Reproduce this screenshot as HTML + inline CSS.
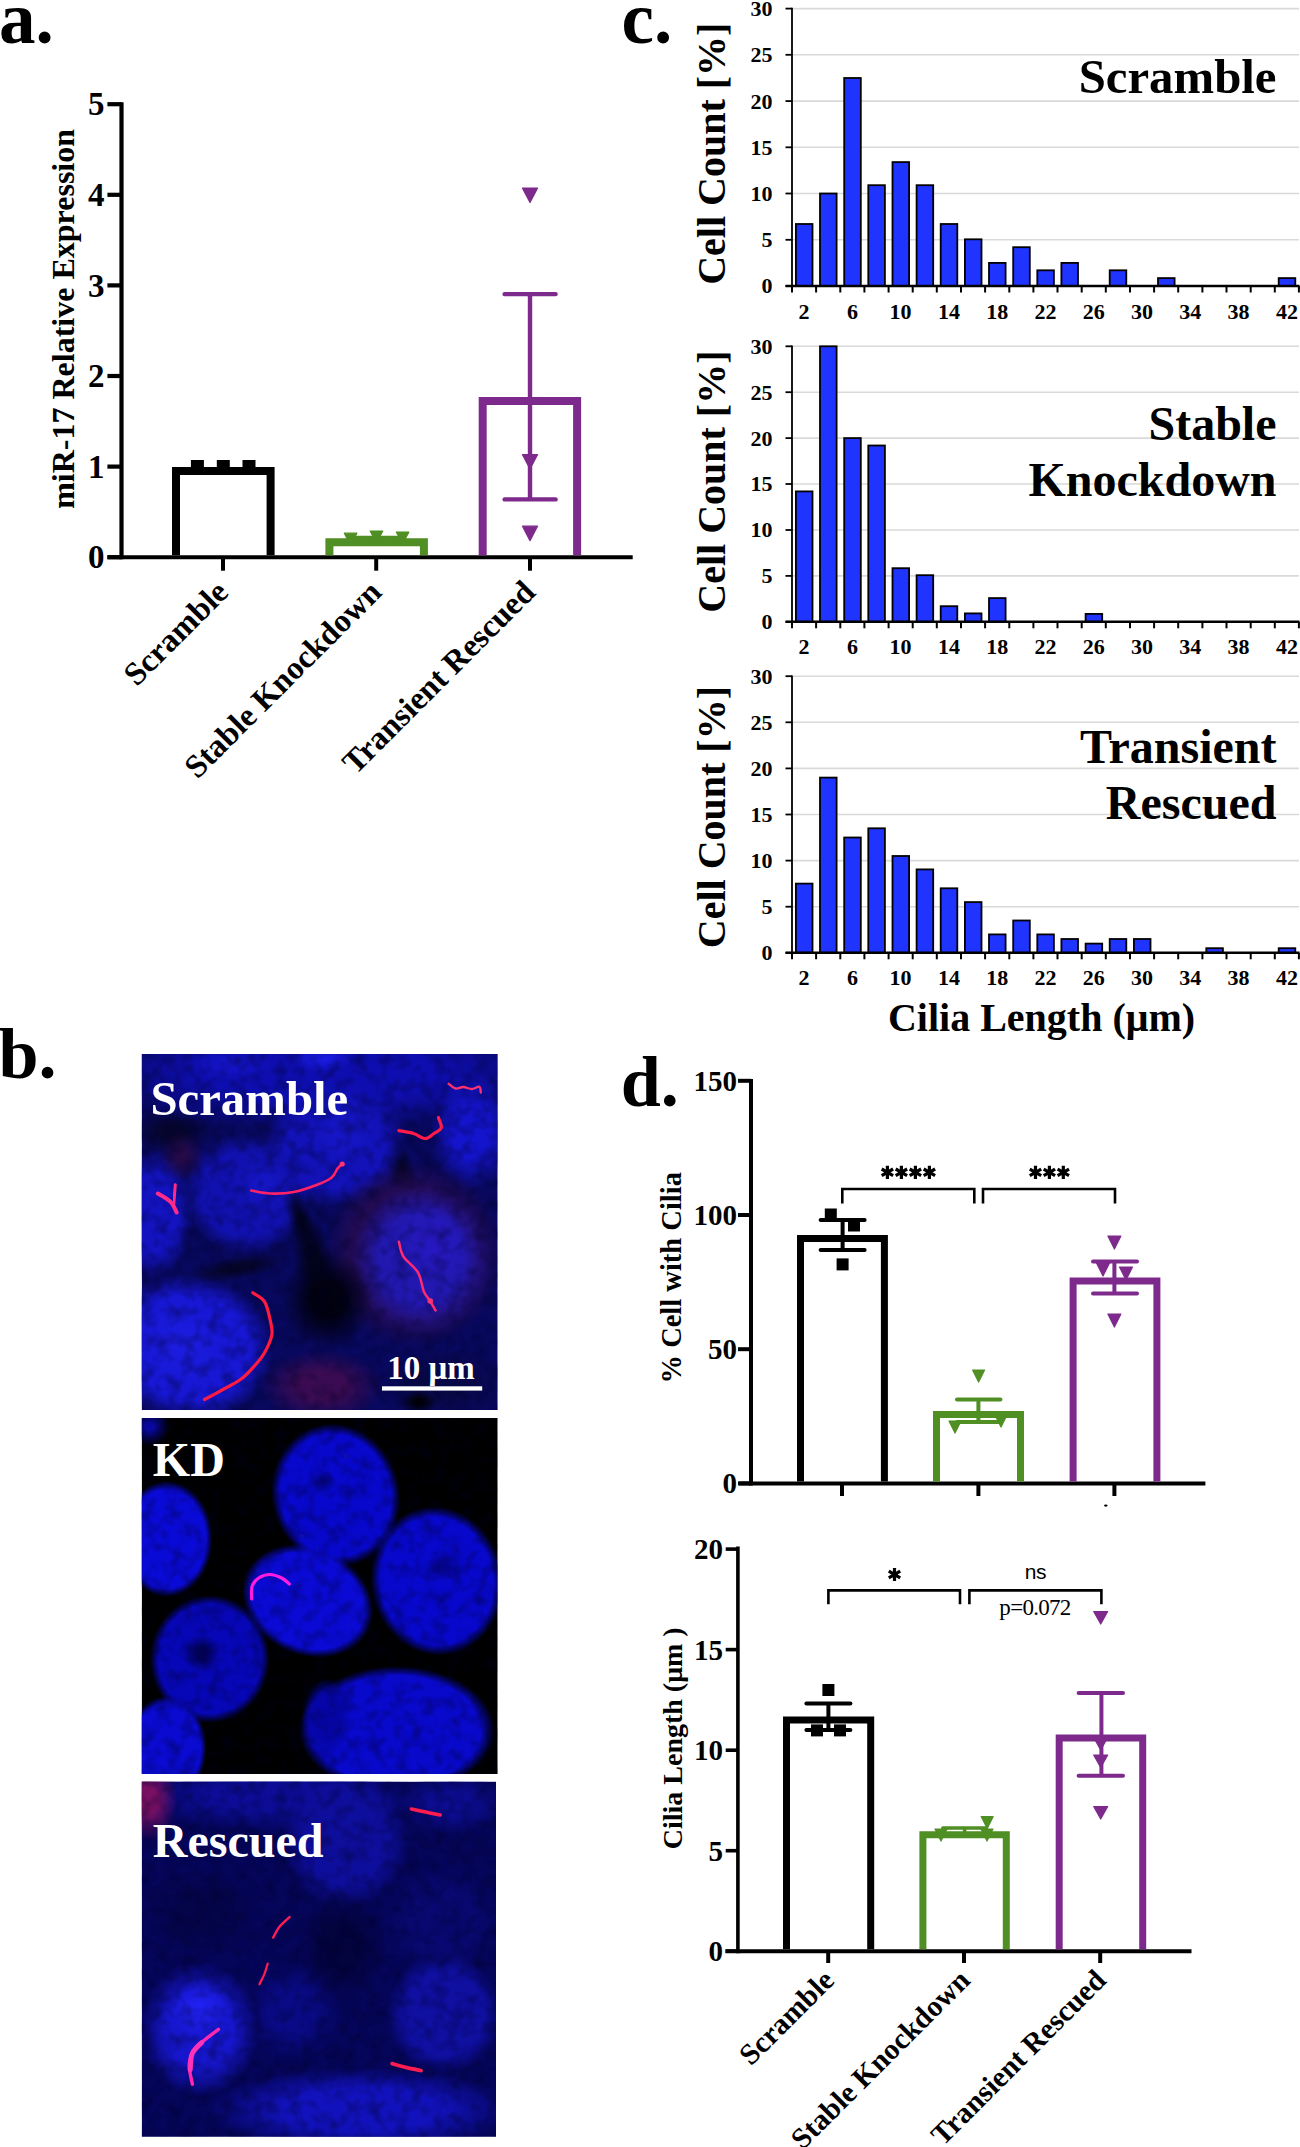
<!DOCTYPE html>
<html><head><meta charset="utf-8"><style>
html,body{margin:0;padding:0;background:#fff;}
svg{display:block;}
</style></head><body>
<svg width="1300" height="2147" viewBox="0 0 1300 2147">
<rect width="1300" height="2147" fill="#fff"/>
<defs>
<filter id="bl1" x="-50%" y="-50%" width="200%" height="200%"><feGaussianBlur stdDeviation="0.6"/></filter>
<filter id="nz" x="0" y="0" width="100%" height="100%"><feTurbulence type="fractalNoise" baseFrequency="0.075" numOctaves="2" seed="7"/><feColorMatrix type="matrix" values="0 0 0 0 0  0 0 0 0 0  0 0 0 0 0.02  1.3 0 0 0 -0.55"/></filter>
<filter id="bl3" x="-50%" y="-50%" width="200%" height="200%"><feGaussianBlur stdDeviation="3"/></filter>
<clipPath id="c1"><rect x="0" y="0" width="356" height="356"/></clipPath>
<clipPath id="c3"><rect x="0" y="0" width="354.3" height="355.2"/></clipPath>
<radialGradient id="g1"><stop offset="0" stop-color="#0e0eb0" stop-opacity="1.0"/><stop offset="0.50" stop-color="#0e0eb0" stop-opacity="1.0"/><stop offset="1" stop-color="#0e0eb0" stop-opacity="0"/></radialGradient>
<radialGradient id="g2"><stop offset="0" stop-color="#1a1ae0" stop-opacity="1.0"/><stop offset="0.20" stop-color="#1a1ae0" stop-opacity="1.0"/><stop offset="1" stop-color="#1a1ae0" stop-opacity="0"/></radialGradient>
<radialGradient id="g3"><stop offset="0" stop-color="#1414c8" stop-opacity="1.0"/><stop offset="0.20" stop-color="#1414c8" stop-opacity="1.0"/><stop offset="1" stop-color="#1414c8" stop-opacity="0"/></radialGradient>
<radialGradient id="g4"><stop offset="0" stop-color="#1414cc" stop-opacity="1.0"/><stop offset="0.45" stop-color="#1414cc" stop-opacity="1.0"/><stop offset="1" stop-color="#1414cc" stop-opacity="0"/></radialGradient>
<radialGradient id="g5"><stop offset="0" stop-color="#05052e" stop-opacity="1.0"/><stop offset="0.30" stop-color="#05052e" stop-opacity="1.0"/><stop offset="1" stop-color="#05052e" stop-opacity="0"/></radialGradient>
<radialGradient id="g6"><stop offset="0" stop-color="#040428" stop-opacity="1.0"/><stop offset="0.20" stop-color="#040428" stop-opacity="1.0"/><stop offset="1" stop-color="#040428" stop-opacity="0"/></radialGradient>
<radialGradient id="g7"><stop offset="0" stop-color="#1212b8" stop-opacity="1.0"/><stop offset="0.70" stop-color="#1212b8" stop-opacity="1.0"/><stop offset="1" stop-color="#1212b8" stop-opacity="0"/></radialGradient>
<radialGradient id="g8"><stop offset="0" stop-color="#1111b0" stop-opacity="1.0"/><stop offset="0.70" stop-color="#1111b0" stop-opacity="1.0"/><stop offset="1" stop-color="#1111b0" stop-opacity="0"/></radialGradient>
<radialGradient id="g9"><stop offset="0" stop-color="#1515c4" stop-opacity="1.0"/><stop offset="0.20" stop-color="#1515c4" stop-opacity="1.0"/><stop offset="1" stop-color="#1515c4" stop-opacity="0"/></radialGradient>
<radialGradient id="g10"><stop offset="0" stop-color="#1616c8" stop-opacity="1.0"/><stop offset="0.20" stop-color="#1616c8" stop-opacity="1.0"/><stop offset="1" stop-color="#1616c8" stop-opacity="0"/></radialGradient>
<radialGradient id="g11"><stop offset="0" stop-color="#03031e" stop-opacity="1.0"/><stop offset="0.20" stop-color="#03031e" stop-opacity="1.0"/><stop offset="1" stop-color="#03031e" stop-opacity="0"/></radialGradient>
<radialGradient id="g12"><stop offset="0" stop-color="#1313c0" stop-opacity="1.0"/><stop offset="0.60" stop-color="#1313c0" stop-opacity="1.0"/><stop offset="1" stop-color="#1313c0" stop-opacity="0"/></radialGradient>
<radialGradient id="g13"><stop offset="0" stop-color="#2e0b44" stop-opacity="0.8"/><stop offset="0.20" stop-color="#2e0b44" stop-opacity="0.8"/><stop offset="1" stop-color="#2e0b44" stop-opacity="0"/></radialGradient>
<radialGradient id="g14"><stop offset="0" stop-color="#380e4a" stop-opacity="0.55"/><stop offset="0.70" stop-color="#380e4a" stop-opacity="0.55"/><stop offset="1" stop-color="#380e4a" stop-opacity="0"/></radialGradient>
<radialGradient id="g15"><stop offset="0" stop-color="#2218b0" stop-opacity="1.0"/><stop offset="0.60" stop-color="#2218b0" stop-opacity="1.0"/><stop offset="1" stop-color="#2218b0" stop-opacity="0"/></radialGradient>
<radialGradient id="g16"><stop offset="0" stop-color="#2618c0" stop-opacity="1.0"/><stop offset="0.20" stop-color="#2618c0" stop-opacity="1.0"/><stop offset="1" stop-color="#2618c0" stop-opacity="0"/></radialGradient>
<radialGradient id="g17"><stop offset="0" stop-color="#1717d4" stop-opacity="1.0"/><stop offset="0.70" stop-color="#1717d4" stop-opacity="1.0"/><stop offset="1" stop-color="#1717d4" stop-opacity="0"/></radialGradient>
<radialGradient id="g18"><stop offset="0" stop-color="#1c1ce0" stop-opacity="1.0"/><stop offset="0.20" stop-color="#1c1ce0" stop-opacity="1.0"/><stop offset="1" stop-color="#1c1ce0" stop-opacity="0"/></radialGradient>
<radialGradient id="g19"><stop offset="0" stop-color="#030320" stop-opacity="1.0"/><stop offset="0.30" stop-color="#030320" stop-opacity="1.0"/><stop offset="1" stop-color="#030320" stop-opacity="0"/></radialGradient>
<radialGradient id="g20"><stop offset="0" stop-color="#05052a" stop-opacity="1.0"/><stop offset="0.30" stop-color="#05052a" stop-opacity="1.0"/><stop offset="1" stop-color="#05052a" stop-opacity="0"/></radialGradient>
<radialGradient id="g21"><stop offset="0" stop-color="#010110" stop-opacity="1.0"/><stop offset="0.35" stop-color="#010110" stop-opacity="1.0"/><stop offset="1" stop-color="#010110" stop-opacity="0"/></radialGradient>
<radialGradient id="g22"><stop offset="0" stop-color="#3a0b52" stop-opacity="1.0"/><stop offset="0.40" stop-color="#3a0b52" stop-opacity="1.0"/><stop offset="1" stop-color="#3a0b52" stop-opacity="0"/></radialGradient>
<radialGradient id="g23"><stop offset="0" stop-color="#080848" stop-opacity="1.0"/><stop offset="0.40" stop-color="#080848" stop-opacity="1.0"/><stop offset="1" stop-color="#080848" stop-opacity="0"/></radialGradient>
<radialGradient id="g24"><stop offset="0" stop-color="#000006" stop-opacity="1.0"/><stop offset="0.20" stop-color="#000006" stop-opacity="1.0"/><stop offset="1" stop-color="#000006" stop-opacity="0"/></radialGradient>
<radialGradient id="g25"><stop offset="0" stop-color="#0808a0" stop-opacity="1.0"/><stop offset="0.20" stop-color="#0808a0" stop-opacity="1.0"/><stop offset="1" stop-color="#0808a0" stop-opacity="0"/></radialGradient>
<radialGradient id="g26"><stop offset="0" stop-color="#0a0ad6" stop-opacity="1.0"/><stop offset="0.85" stop-color="#0a0ad6" stop-opacity="1.0"/><stop offset="1" stop-color="#0a0ad6" stop-opacity="0"/></radialGradient>
<radialGradient id="g27"><stop offset="0" stop-color="#0808cc" stop-opacity="1.0"/><stop offset="0.85" stop-color="#0808cc" stop-opacity="1.0"/><stop offset="1" stop-color="#0808cc" stop-opacity="0"/></radialGradient>
<radialGradient id="g28"><stop offset="0" stop-color="#0a0ad4" stop-opacity="1.0"/><stop offset="0.85" stop-color="#0a0ad4" stop-opacity="1.0"/><stop offset="1" stop-color="#0a0ad4" stop-opacity="0"/></radialGradient>
<radialGradient id="g29"><stop offset="0" stop-color="#0808cc" stop-opacity="1.0"/><stop offset="0.85" stop-color="#0808cc" stop-opacity="1.0"/><stop offset="1" stop-color="#0808cc" stop-opacity="0"/></radialGradient>
<radialGradient id="g30"><stop offset="0" stop-color="#0707b8" stop-opacity="1.0"/><stop offset="0.85" stop-color="#0707b8" stop-opacity="1.0"/><stop offset="1" stop-color="#0707b8" stop-opacity="0"/></radialGradient>
<radialGradient id="g31"><stop offset="0" stop-color="#02025a" stop-opacity="1.0"/><stop offset="0.30" stop-color="#02025a" stop-opacity="1.0"/><stop offset="1" stop-color="#02025a" stop-opacity="0"/></radialGradient>
<radialGradient id="g32"><stop offset="0" stop-color="#0a0ad0" stop-opacity="1.0"/><stop offset="0.85" stop-color="#0a0ad0" stop-opacity="1.0"/><stop offset="1" stop-color="#0a0ad0" stop-opacity="0"/></radialGradient>
<radialGradient id="g33"><stop offset="0" stop-color="#0909cc" stop-opacity="1.0"/><stop offset="0.85" stop-color="#0909cc" stop-opacity="1.0"/><stop offset="1" stop-color="#0909cc" stop-opacity="0"/></radialGradient>
<radialGradient id="g34"><stop offset="0" stop-color="#0606a8" stop-opacity="1.0"/><stop offset="0.60" stop-color="#0606a8" stop-opacity="1.0"/><stop offset="1" stop-color="#0606a8" stop-opacity="0"/></radialGradient>
<radialGradient id="g35"><stop offset="0" stop-color="#050590" stop-opacity="1.0"/><stop offset="0.30" stop-color="#050590" stop-opacity="1.0"/><stop offset="1" stop-color="#050590" stop-opacity="0"/></radialGradient>
<radialGradient id="g36"><stop offset="0" stop-color="#050590" stop-opacity="1.0"/><stop offset="0.30" stop-color="#050590" stop-opacity="1.0"/><stop offset="1" stop-color="#050590" stop-opacity="0"/></radialGradient>
<radialGradient id="g37"><stop offset="0" stop-color="#0c0c96" stop-opacity="1.0"/><stop offset="0.40" stop-color="#0c0c96" stop-opacity="1.0"/><stop offset="1" stop-color="#0c0c96" stop-opacity="0"/></radialGradient>
<radialGradient id="g38"><stop offset="0" stop-color="#0e0e9c" stop-opacity="1.0"/><stop offset="0.65" stop-color="#0e0e9c" stop-opacity="1.0"/><stop offset="1" stop-color="#0e0e9c" stop-opacity="0"/></radialGradient>
<radialGradient id="g39"><stop offset="0" stop-color="#0c0c90" stop-opacity="1.0"/><stop offset="0.40" stop-color="#0c0c90" stop-opacity="1.0"/><stop offset="1" stop-color="#0c0c90" stop-opacity="0"/></radialGradient>
<radialGradient id="g40"><stop offset="0" stop-color="#080870" stop-opacity="1.0"/><stop offset="0.50" stop-color="#080870" stop-opacity="1.0"/><stop offset="1" stop-color="#080870" stop-opacity="0"/></radialGradient>
<radialGradient id="g41"><stop offset="0" stop-color="#1616cc" stop-opacity="1.0"/><stop offset="0.55" stop-color="#1616cc" stop-opacity="1.0"/><stop offset="1" stop-color="#1616cc" stop-opacity="0"/></radialGradient>
<radialGradient id="g42"><stop offset="0" stop-color="#2020f0" stop-opacity="1.0"/><stop offset="0.20" stop-color="#2020f0" stop-opacity="1.0"/><stop offset="1" stop-color="#2020f0" stop-opacity="0"/></radialGradient>
<radialGradient id="g43"><stop offset="0" stop-color="#0f0fa0" stop-opacity="1.0"/><stop offset="0.70" stop-color="#0f0fa0" stop-opacity="1.0"/><stop offset="1" stop-color="#0f0fa0" stop-opacity="0"/></radialGradient>
<radialGradient id="g44"><stop offset="0" stop-color="#1212bc" stop-opacity="1.0"/><stop offset="0.50" stop-color="#1212bc" stop-opacity="1.0"/><stop offset="1" stop-color="#1212bc" stop-opacity="0"/></radialGradient>
<radialGradient id="g45"><stop offset="0" stop-color="#0a0a86" stop-opacity="1.0"/><stop offset="0.40" stop-color="#0a0a86" stop-opacity="1.0"/><stop offset="1" stop-color="#0a0a86" stop-opacity="0"/></radialGradient>
<radialGradient id="g46"><stop offset="0" stop-color="#7a1064" stop-opacity="1.0"/><stop offset="0.30" stop-color="#7a1064" stop-opacity="1.0"/><stop offset="1" stop-color="#7a1064" stop-opacity="0"/></radialGradient>
<radialGradient id="g47"><stop offset="0" stop-color="#03033e" stop-opacity="1.0"/><stop offset="0.40" stop-color="#03033e" stop-opacity="1.0"/><stop offset="1" stop-color="#03033e" stop-opacity="0"/></radialGradient>
<radialGradient id="g48"><stop offset="0" stop-color="#04044a" stop-opacity="1.0"/><stop offset="0.40" stop-color="#04044a" stop-opacity="1.0"/><stop offset="1" stop-color="#04044a" stop-opacity="0"/></radialGradient>
</defs>
<g transform="translate(141.7,1054)" clip-path="url(#c1)">
<rect width="356" height="356" fill="#08085e"/>
<ellipse cx="178" cy="18" rx="240" ry="58" fill="url(#g1)" transform="rotate(0 178 18)"/>
<ellipse cx="180" cy="4" rx="30" ry="14" fill="url(#g2)" transform="rotate(0 180 4)"/>
<ellipse cx="90" cy="10" rx="40" ry="16" fill="url(#g3)" transform="rotate(0 90 10)"/>
<ellipse cx="330" cy="78" rx="42" ry="58" fill="url(#g4)" transform="rotate(0 330 78)"/>
<ellipse cx="30" cy="78" rx="42" ry="22" fill="url(#g5)" transform="rotate(0 30 78)"/>
<ellipse cx="258" cy="112" rx="14" ry="32" fill="url(#g6)" transform="rotate(-20 258 112)"/>
<ellipse cx="193" cy="92" rx="72" ry="60" fill="url(#g7)" transform="rotate(-12 193 92)"/>
<ellipse cx="104" cy="140" rx="63" ry="60" fill="url(#g8)" transform="rotate(20 104 140)"/>
<ellipse cx="120" cy="130" rx="30" ry="30" fill="url(#g9)" transform="rotate(0 120 130)"/>
<ellipse cx="200" cy="80" rx="35" ry="30" fill="url(#g10)" transform="rotate(0 200 80)"/>
<ellipse cx="160" cy="168" rx="12" ry="40" fill="url(#g11)" transform="rotate(-20 160 168)"/>
<ellipse cx="12" cy="160" rx="40" ry="64" fill="url(#g12)" transform="rotate(0 12 160)"/>
<ellipse cx="40" cy="102" rx="22" ry="25" fill="url(#g13)" transform="rotate(0 40 102)"/>
<ellipse cx="272" cy="200" rx="90" ry="94" fill="url(#g14)" transform="rotate(0 272 200)"/>
<ellipse cx="280" cy="205" rx="70" ry="74" fill="url(#g15)" transform="rotate(0 280 205)"/>
<ellipse cx="292" cy="190" rx="35" ry="40" fill="url(#g16)" transform="rotate(0 292 190)"/>
<ellipse cx="48" cy="294" rx="84" ry="74" fill="url(#g17)" transform="rotate(8 48 294)"/>
<ellipse cx="40" cy="290" rx="40" ry="40" fill="url(#g18)" transform="rotate(0 40 290)"/>
<ellipse cx="172" cy="205" rx="20" ry="48" fill="url(#g19)" transform="rotate(-15 172 205)"/>
<ellipse cx="95" cy="214" rx="52" ry="12" fill="url(#g20)" transform="rotate(-10 95 214)"/>
<ellipse cx="186" cy="246" rx="46" ry="50" fill="url(#g21)" transform="rotate(0 186 246)"/>
<ellipse cx="180" cy="332" rx="62" ry="36" fill="url(#g22)" transform="rotate(0 180 332)"/>
<ellipse cx="300" cy="330" rx="64" ry="36" fill="url(#g23)" transform="rotate(0 300 330)"/>
<ellipse cx="277" cy="348" rx="18" ry="12" fill="url(#g24)" transform="rotate(0 277 348)"/>
<rect width="356" height="356" filter="url(#nz)" opacity="0.65"/>
<path d="M109.6,136.5 C112.8,137.0 121.5,139.2 128.6,139.5 C135.7,139.8 144.2,139.5 152.0,138.0 C159.8,136.5 169.1,133.1 175.4,130.7 C181.7,128.3 186.6,126.1 190.0,123.4 C193.4,120.7 194.1,116.8 195.8,114.6 C197.5,112.4 199.5,110.9 200.2,110.2" fill="none" stroke="#ff2266" stroke-width="2.6" stroke-linecap="round" stroke-linejoin="round" filter="url(#bl1)"/>
<circle cx="200.5" cy="110" r="2.6" fill="#ff3377" opacity="1" filter="url(#bl1)"/>
<path d="M257.2,76.6 C259.6,77.1 267.4,78.2 271.8,79.5 C276.2,80.8 280.1,84.5 283.5,84.5 C286.9,84.5 289.6,81.3 292.3,79.5 C295.0,77.7 298.9,76.4 299.6,73.7 C300.3,71.0 297.2,65.2 296.7,63.5" fill="none" stroke="#ff1a4a" stroke-width="3.2" stroke-linecap="round" stroke-linejoin="round" filter="url(#bl1)"/>
<path d="M306.9,29.8 C308.1,30.6 311.6,34.0 314.0,34.5 C316.4,35.0 318.8,32.9 321.5,33.0 C324.2,33.1 327.3,35.0 330.0,35.0 C332.7,35.0 336.1,32.2 337.6,32.8 C339.1,33.4 338.9,37.6 339.1,38.6" fill="none" stroke="#ff3070" stroke-width="2.3" stroke-linecap="round" stroke-linejoin="round" filter="url(#bl1)"/>
<path d="M16.1,139.5 C18.3,140.9 26.1,145.0 29.2,148.2 C32.4,151.4 34.0,156.8 35.0,158.5" fill="none" stroke="#ff2a8a" stroke-width="4" stroke-linecap="round" stroke-linejoin="round" filter="url(#bl1)"/>
<path d="M33.6,130.7 L32.1,149.7" fill="none" stroke="#ff2a8a" stroke-width="3" stroke-linecap="round" stroke-linejoin="round" filter="url(#bl1)"/>
<path d="M257.2,187.7 C257.9,190.1 258.4,197.2 261.6,202.3 C264.8,207.4 272.8,212.6 276.2,218.4 C279.6,224.2 280.2,232.8 282.1,237.4 C284.1,242.0 285.9,243.0 287.9,246.2 C289.8,249.4 292.8,254.7 293.8,256.4" fill="none" stroke="#ff2a70" stroke-width="2.5" stroke-linecap="round" stroke-linejoin="round" filter="url(#bl1)"/>
<circle cx="288.5" cy="247" r="2.8" fill="#ff3377" opacity="1" filter="url(#bl1)"/>
<path d="M111.1,238.8 C113.0,240.3 119.9,243.0 122.8,247.6 C125.7,252.2 127.4,261.0 128.6,266.6 C129.8,272.2 131.1,275.8 130.1,281.2 C129.1,286.6 125.5,293.9 122.8,298.8 C120.1,303.7 117.9,306.1 114.0,310.5 C110.1,314.9 105.2,320.7 99.4,325.1 C93.6,329.5 85.0,333.4 78.9,336.8 C72.8,340.2 65.5,344.1 62.8,345.5" fill="none" stroke="#ff1a40" stroke-width="3.2" stroke-linecap="round" stroke-linejoin="round" filter="url(#bl1)"/>
<text x="8.7" y="60.5" font-size="48.8" font-weight="bold" font-family='"Liberation Serif", serif' fill="#fff">Scramble</text>
<text x="245.6" y="325" font-size="33" font-weight="bold" font-family='"Liberation Serif", serif' fill="#fff">10 μm</text>
<rect x="240.3" y="332.3" width="100.2" height="4.3" fill="#fff"/>
</g>
<g transform="translate(141.7,1418)" clip-path="url(#c1)">
<rect width="356" height="356" fill="#000"/>
<ellipse cx="8" cy="8" rx="20" ry="20" fill="url(#g25)" transform="rotate(0 8 8)"/>
<ellipse cx="25" cy="121" rx="46" ry="58" fill="url(#g26)" transform="rotate(0 25 121)"/>
<ellipse cx="194" cy="77" rx="64" ry="72" fill="url(#g27)" transform="rotate(-15 194 77)"/>
<ellipse cx="166" cy="183" rx="68" ry="54" fill="url(#g28)" transform="rotate(25 166 183)"/>
<ellipse cx="295" cy="163" rx="66" ry="75" fill="url(#g29)" transform="rotate(-10 295 163)"/>
<ellipse cx="68" cy="241" rx="60" ry="64" fill="url(#g30)" transform="rotate(0 68 241)"/>
<ellipse cx="60" cy="235" rx="18" ry="20" fill="url(#g31)" transform="rotate(0 60 235)"/>
<ellipse cx="25" cy="330" rx="40" ry="52" fill="url(#g32)" transform="rotate(0 25 330)"/>
<ellipse cx="255" cy="312" rx="98" ry="64" fill="url(#g33)" transform="rotate(0 255 312)"/>
<ellipse cx="185" cy="300" rx="25" ry="40" fill="url(#g34)" transform="rotate(0 185 300)"/>
<ellipse cx="180" cy="65" rx="16" ry="10" fill="url(#g35)" transform="rotate(0 180 65)"/>
<ellipse cx="300" cy="150" rx="20" ry="14" fill="url(#g36)" transform="rotate(0 300 150)"/>
<rect width="356" height="356" filter="url(#nz)" opacity="0.65"/>
<circle cx="205" cy="38" r="3" fill="#0a0ab0" opacity="1" filter="url(#bl1)"/>
<circle cx="160" cy="118" r="2.5" fill="#0a0ab0" opacity="1" filter="url(#bl1)"/>
<circle cx="175" cy="130" r="2" fill="#0a0ab0" opacity="1" filter="url(#bl1)"/>
<path d="M110.0,181.0 C110.1,178.8 109.3,171.5 110.5,168.0 C111.7,164.5 114.1,161.9 117.0,160.0 C119.9,158.1 124.2,156.5 128.0,156.5 C131.8,156.5 136.7,158.4 140.0,160.0 C143.3,161.6 146.3,165.0 147.6,166.0" fill="none" stroke="#ff1ee0" stroke-width="3.2" stroke-linecap="round" stroke-linejoin="round" filter="url(#bl1)"/>
<text x="11.1" y="58" font-size="48" font-weight="bold" font-family='"Liberation Serif", serif' fill="#fff">KD</text>
</g>
<g transform="translate(141.7,1781.6)" clip-path="url(#c3)">
<rect width="356" height="356" fill="#05055a"/>
<ellipse cx="130" cy="15" rx="150" ry="35" fill="url(#g37)" transform="rotate(0 130 15)"/>
<ellipse cx="204" cy="58" rx="64" ry="68" fill="url(#g38)" transform="rotate(0 204 58)"/>
<ellipse cx="310" cy="22" rx="55" ry="30" fill="url(#g39)" transform="rotate(0 310 22)"/>
<ellipse cx="300" cy="140" rx="60" ry="60" fill="url(#g40)" transform="rotate(0 300 140)"/>
<ellipse cx="58" cy="248" rx="60" ry="68" fill="url(#g41)" transform="rotate(0 58 248)"/>
<ellipse cx="58" cy="228" rx="30" ry="30" fill="url(#g42)" transform="rotate(0 58 228)"/>
<ellipse cx="302" cy="232" rx="58" ry="60" fill="url(#g43)" transform="rotate(0 302 232)"/>
<ellipse cx="220" cy="328" rx="155" ry="42" fill="url(#g44)" transform="rotate(0 220 328)"/>
<ellipse cx="150" cy="230" rx="50" ry="50" fill="url(#g45)" transform="rotate(0 150 230)"/>
<ellipse cx="6" cy="18" rx="30" ry="42" fill="url(#g46)" transform="rotate(0 6 18)"/>
<ellipse cx="200" cy="165" rx="45" ry="55" fill="url(#g47)" transform="rotate(0 200 165)"/>
<ellipse cx="60" cy="130" rx="60" ry="45" fill="url(#g48)" transform="rotate(0 60 130)"/>
<rect width="356" height="356" filter="url(#nz)" opacity="0.65"/>
<path d="M269.7,27.4 C272.1,27.9 279.2,29.5 284.0,30.5 C288.8,31.5 296.1,32.9 298.5,33.4" fill="none" stroke="#ff1e50" stroke-width="3.6" stroke-linecap="round" stroke-linejoin="round" filter="url(#bl1)"/>
<path d="M131.4,156.0 C132.5,154.2 135.2,148.4 138.0,145.0 C140.8,141.6 146.2,137.1 147.9,135.5" fill="none" stroke="#ff1e50" stroke-width="2.4" stroke-linecap="round" stroke-linejoin="round" filter="url(#bl1)"/>
<path d="M117.7,202.6 C118.5,201.0 121.1,196.4 122.5,193.0 C123.9,189.6 125.4,183.8 126.0,182.0" fill="none" stroke="#ff1e50" stroke-width="2.2" stroke-linecap="round" stroke-linejoin="round" filter="url(#bl1)"/>
<path d="M50.7,302.6 C50.2,299.2 46.9,288.2 47.6,282.0 C48.3,275.8 49.9,271.3 54.8,265.6 C59.6,259.9 73.0,250.8 76.7,247.8" fill="none" stroke="#ff28b0" stroke-width="3.4" stroke-linecap="round" stroke-linejoin="round" filter="url(#bl1)"/>
<path d="M48.5,288.0 C48.8,285.3 48.6,276.5 50.5,272.0 C52.4,267.5 58.4,262.8 60.0,261.0" fill="none" stroke="#ff30b8" stroke-width="5" stroke-linecap="round" stroke-linejoin="round" filter="url(#bl1)"/>
<path d="M250.5,282.0 C252.9,282.7 260.2,284.9 265.0,286.0 C269.8,287.1 276.9,288.4 279.3,288.9" fill="none" stroke="#ff1e50" stroke-width="3.8" stroke-linecap="round" stroke-linejoin="round" filter="url(#bl1)"/>
<text x="11.1" y="75.4" font-size="48" font-weight="bold" font-family='"Liberation Serif", serif' fill="#fff">Rescued</text>
</g>
<text x="-1.0" y="42.5" font-size="73" text-anchor="start" font-weight="bold" font-family='"Liberation Serif", serif' fill="#000" >a.</text>
<text x="621.5" y="42.5" font-size="73" text-anchor="start" font-weight="bold" font-family='"Liberation Serif", serif' fill="#000" >c.</text>
<text x="-1.5" y="1077.5" font-size="72" text-anchor="start" font-weight="bold" font-family='"Liberation Serif", serif' fill="#000" >b.</text>
<text x="620.8" y="1106.0" font-size="72" text-anchor="start" font-weight="bold" font-family='"Liberation Serif", serif' fill="#000" >d.</text>
<line x1="121.5" y1="102.2" x2="121.5" y2="559.2" stroke="#000" stroke-width="4.2" stroke-linecap="butt"/>
<line x1="107.4" y1="557.2" x2="121.5" y2="557.2" stroke="#000" stroke-width="4.2" stroke-linecap="butt"/>
<text x="104.5" y="568.4" font-size="33" text-anchor="end" font-weight="bold" font-family='"Liberation Serif", serif' fill="#000" >0</text>
<line x1="107.4" y1="466.6" x2="121.5" y2="466.6" stroke="#000" stroke-width="4.2" stroke-linecap="butt"/>
<text x="104.5" y="477.8" font-size="33" text-anchor="end" font-weight="bold" font-family='"Liberation Serif", serif' fill="#000" >1</text>
<line x1="107.4" y1="376.0" x2="121.5" y2="376.0" stroke="#000" stroke-width="4.2" stroke-linecap="butt"/>
<text x="104.5" y="387.2" font-size="33" text-anchor="end" font-weight="bold" font-family='"Liberation Serif", serif' fill="#000" >2</text>
<line x1="107.4" y1="285.4" x2="121.5" y2="285.4" stroke="#000" stroke-width="4.2" stroke-linecap="butt"/>
<text x="104.5" y="296.6" font-size="33" text-anchor="end" font-weight="bold" font-family='"Liberation Serif", serif' fill="#000" >3</text>
<line x1="107.4" y1="194.8" x2="121.5" y2="194.8" stroke="#000" stroke-width="4.2" stroke-linecap="butt"/>
<text x="104.5" y="206.0" font-size="33" text-anchor="end" font-weight="bold" font-family='"Liberation Serif", serif' fill="#000" >4</text>
<line x1="107.4" y1="104.2" x2="121.5" y2="104.2" stroke="#000" stroke-width="4.2" stroke-linecap="butt"/>
<text x="104.5" y="115.4" font-size="33" text-anchor="end" font-weight="bold" font-family='"Liberation Serif", serif' fill="#000" >5</text>
<line x1="107.4" y1="557.2" x2="632.7" y2="557.2" stroke="#000" stroke-width="4" stroke-linecap="butt"/>
<line x1="223.0" y1="557.2" x2="223.0" y2="570.7" stroke="#000" stroke-width="4" stroke-linecap="butt"/>
<line x1="376.2" y1="557.2" x2="376.2" y2="570.7" stroke="#000" stroke-width="4" stroke-linecap="butt"/>
<line x1="530.0" y1="557.2" x2="530.0" y2="570.7" stroke="#000" stroke-width="4" stroke-linecap="butt"/>
<text x="0.0" y="0.0" font-size="32" text-anchor="middle" font-weight="bold" font-family='"Liberation Serif", serif' fill="#000" transform="translate(74,318.9) rotate(-90)">miR-17 Relative Expression</text>
<rect x="190.9" y="460.0" width="13" height="13" fill="#000"/>
<rect x="216.8" y="460.0" width="13" height="13" fill="#000"/>
<rect x="242.5" y="460.0" width="13" height="13" fill="#000"/>
<path d="M176.0,555.2 V471.0 H270.6 V555.2" fill="none" stroke="#000" stroke-width="8" stroke-linejoin="miter"/>
<line x1="351.0" y1="537.8" x2="402.0" y2="537.8" stroke="#4f8f23" stroke-width="4.2" stroke-linecap="round"/>
<path d="M344.3,533.2 L356.9,533.2 L350.6,545.2 Z" fill="#4f8f23" stroke="#4f8f23" stroke-width="1.2" stroke-linejoin="round"/>
<path d="M370.2,531.0 L382.8,531.0 L376.5,543.0 Z" fill="#4f8f23" stroke="#4f8f23" stroke-width="1.2" stroke-linejoin="round"/>
<path d="M396.3,532.0 L408.9,532.0 L402.6,544.0 Z" fill="#4f8f23" stroke="#4f8f23" stroke-width="1.2" stroke-linejoin="round"/>
<path d="M329.4,555.2 V542.3 H423.9 V555.2" fill="none" stroke="#4f8f23" stroke-width="8" stroke-linejoin="miter"/>
<path d="M482.7,555.2 V400.9 H577.1 V555.2" fill="none" stroke="#7e2a8c" stroke-width="8" stroke-linejoin="miter"/>
<line x1="530.0" y1="294.1" x2="530.0" y2="499.4" stroke="#7e2a8c" stroke-width="4.4" stroke-linecap="butt"/>
<line x1="504.6" y1="294.1" x2="555.6" y2="294.1" stroke="#7e2a8c" stroke-width="4.4" stroke-linecap="round"/>
<line x1="504.6" y1="499.4" x2="555.6" y2="499.4" stroke="#7e2a8c" stroke-width="4.4" stroke-linecap="round"/>
<path d="M522.5,188.1 L537.5,188.1 L530.0,202.5 Z" fill="#7e2a8c" stroke="#7e2a8c" stroke-width="1.2" stroke-linejoin="round"/>
<path d="M522.5,454.6 L537.5,454.6 L530.0,469.0 Z" fill="#7e2a8c" stroke="#7e2a8c" stroke-width="1.2" stroke-linejoin="round"/>
<path d="M522.5,526.2 L537.5,526.2 L530.0,540.6 Z" fill="#7e2a8c" stroke="#7e2a8c" stroke-width="1.2" stroke-linejoin="round"/>
<text x="0.0" y="0.0" font-size="32.5" text-anchor="end" font-weight="bold" font-family='"Liberation Serif", serif' fill="#000" transform="translate(230.0,594) rotate(-45)">Scramble</text>
<text x="0.0" y="0.0" font-size="32.5" text-anchor="end" font-weight="bold" font-family='"Liberation Serif", serif' fill="#000" transform="translate(383.2,594) rotate(-45)">Stable Knockdown</text>
<text x="0.0" y="0.0" font-size="32.5" text-anchor="end" font-weight="bold" font-family='"Liberation Serif", serif' fill="#000" transform="translate(537.0,594) rotate(-45)">Transient Rescued</text>
<line x1="792.0" y1="239.8" x2="1299.0" y2="239.8" stroke="#d9d9d9" stroke-width="1.6" stroke-linecap="butt"/>
<line x1="792.0" y1="193.5" x2="1299.0" y2="193.5" stroke="#d9d9d9" stroke-width="1.6" stroke-linecap="butt"/>
<line x1="792.0" y1="147.3" x2="1299.0" y2="147.3" stroke="#d9d9d9" stroke-width="1.6" stroke-linecap="butt"/>
<line x1="792.0" y1="101.1" x2="1299.0" y2="101.1" stroke="#d9d9d9" stroke-width="1.6" stroke-linecap="butt"/>
<line x1="792.0" y1="54.8" x2="1299.0" y2="54.8" stroke="#d9d9d9" stroke-width="1.6" stroke-linecap="butt"/>
<line x1="792.0" y1="8.6" x2="1299.0" y2="8.6" stroke="#d9d9d9" stroke-width="1.6" stroke-linecap="butt"/>
<text x="1276.5" y="92.6" font-size="48.8" text-anchor="end" font-weight="bold" font-family='"Liberation Serif", serif' fill="#000" >Scramble</text>
<rect x="795.9" y="224.0" width="16.6" height="62.0" fill="#2034ff" stroke="#000" stroke-width="1.8"/>
<rect x="820.0" y="193.5" width="16.6" height="92.5" fill="#2034ff" stroke="#000" stroke-width="1.8"/>
<rect x="844.2" y="78.0" width="16.6" height="208.0" fill="#2034ff" stroke="#000" stroke-width="1.8"/>
<rect x="868.3" y="185.2" width="16.6" height="100.8" fill="#2034ff" stroke="#000" stroke-width="1.8"/>
<rect x="892.5" y="162.1" width="16.6" height="123.9" fill="#2034ff" stroke="#000" stroke-width="1.8"/>
<rect x="916.6" y="185.2" width="16.6" height="100.8" fill="#2034ff" stroke="#000" stroke-width="1.8"/>
<rect x="940.7" y="224.0" width="16.6" height="62.0" fill="#2034ff" stroke="#000" stroke-width="1.8"/>
<rect x="964.9" y="239.3" width="16.6" height="46.7" fill="#2034ff" stroke="#000" stroke-width="1.8"/>
<rect x="989.0" y="262.9" width="16.6" height="23.1" fill="#2034ff" stroke="#000" stroke-width="1.8"/>
<rect x="1013.2" y="247.2" width="16.6" height="38.8" fill="#2034ff" stroke="#000" stroke-width="1.8"/>
<rect x="1037.3" y="270.3" width="16.6" height="15.7" fill="#2034ff" stroke="#000" stroke-width="1.8"/>
<rect x="1061.4" y="262.9" width="16.6" height="23.1" fill="#2034ff" stroke="#000" stroke-width="1.8"/>
<rect x="1109.7" y="270.3" width="16.6" height="15.7" fill="#2034ff" stroke="#000" stroke-width="1.8"/>
<rect x="1158.0" y="278.1" width="16.6" height="7.9" fill="#2034ff" stroke="#000" stroke-width="1.8"/>
<rect x="1278.7" y="278.1" width="16.6" height="7.9" fill="#2034ff" stroke="#000" stroke-width="1.8"/>
<line x1="792.0" y1="7.8" x2="792.0" y2="287.0" stroke="#000" stroke-width="1.8" stroke-linecap="butt"/>
<line x1="785.5" y1="286.0" x2="792.0" y2="286.0" stroke="#000" stroke-width="1.8" stroke-linecap="butt"/>
<text x="772.5" y="293.4" font-size="22" text-anchor="end" font-weight="bold" font-family='"Liberation Serif", serif' fill="#000" >0</text>
<line x1="785.5" y1="239.8" x2="792.0" y2="239.8" stroke="#000" stroke-width="1.8" stroke-linecap="butt"/>
<text x="772.5" y="247.2" font-size="22" text-anchor="end" font-weight="bold" font-family='"Liberation Serif", serif' fill="#000" >5</text>
<line x1="785.5" y1="193.5" x2="792.0" y2="193.5" stroke="#000" stroke-width="1.8" stroke-linecap="butt"/>
<text x="772.5" y="200.9" font-size="22" text-anchor="end" font-weight="bold" font-family='"Liberation Serif", serif' fill="#000" >10</text>
<line x1="785.5" y1="147.3" x2="792.0" y2="147.3" stroke="#000" stroke-width="1.8" stroke-linecap="butt"/>
<text x="772.5" y="154.7" font-size="22" text-anchor="end" font-weight="bold" font-family='"Liberation Serif", serif' fill="#000" >15</text>
<line x1="785.5" y1="101.1" x2="792.0" y2="101.1" stroke="#000" stroke-width="1.8" stroke-linecap="butt"/>
<text x="772.5" y="108.5" font-size="22" text-anchor="end" font-weight="bold" font-family='"Liberation Serif", serif' fill="#000" >20</text>
<line x1="785.5" y1="54.8" x2="792.0" y2="54.8" stroke="#000" stroke-width="1.8" stroke-linecap="butt"/>
<text x="772.5" y="62.2" font-size="22" text-anchor="end" font-weight="bold" font-family='"Liberation Serif", serif' fill="#000" >25</text>
<line x1="785.5" y1="8.6" x2="792.0" y2="8.6" stroke="#000" stroke-width="1.8" stroke-linecap="butt"/>
<text x="772.5" y="16.0" font-size="22" text-anchor="end" font-weight="bold" font-family='"Liberation Serif", serif' fill="#000" >30</text>
<line x1="785.5" y1="286.0" x2="1299.5" y2="286.0" stroke="#000" stroke-width="2.6" stroke-linecap="butt"/>
<line x1="792.0" y1="286.0" x2="792.0" y2="292.5" stroke="#000" stroke-width="2" stroke-linecap="butt"/>
<line x1="816.1" y1="286.0" x2="816.1" y2="292.5" stroke="#000" stroke-width="2" stroke-linecap="butt"/>
<line x1="840.3" y1="286.0" x2="840.3" y2="292.5" stroke="#000" stroke-width="2" stroke-linecap="butt"/>
<line x1="864.4" y1="286.0" x2="864.4" y2="292.5" stroke="#000" stroke-width="2" stroke-linecap="butt"/>
<line x1="888.6" y1="286.0" x2="888.6" y2="292.5" stroke="#000" stroke-width="2" stroke-linecap="butt"/>
<line x1="912.7" y1="286.0" x2="912.7" y2="292.5" stroke="#000" stroke-width="2" stroke-linecap="butt"/>
<line x1="936.8" y1="286.0" x2="936.8" y2="292.5" stroke="#000" stroke-width="2" stroke-linecap="butt"/>
<line x1="961.0" y1="286.0" x2="961.0" y2="292.5" stroke="#000" stroke-width="2" stroke-linecap="butt"/>
<line x1="985.1" y1="286.0" x2="985.1" y2="292.5" stroke="#000" stroke-width="2" stroke-linecap="butt"/>
<line x1="1009.3" y1="286.0" x2="1009.3" y2="292.5" stroke="#000" stroke-width="2" stroke-linecap="butt"/>
<line x1="1033.4" y1="286.0" x2="1033.4" y2="292.5" stroke="#000" stroke-width="2" stroke-linecap="butt"/>
<line x1="1057.5" y1="286.0" x2="1057.5" y2="292.5" stroke="#000" stroke-width="2" stroke-linecap="butt"/>
<line x1="1081.7" y1="286.0" x2="1081.7" y2="292.5" stroke="#000" stroke-width="2" stroke-linecap="butt"/>
<line x1="1105.8" y1="286.0" x2="1105.8" y2="292.5" stroke="#000" stroke-width="2" stroke-linecap="butt"/>
<line x1="1130.0" y1="286.0" x2="1130.0" y2="292.5" stroke="#000" stroke-width="2" stroke-linecap="butt"/>
<line x1="1154.1" y1="286.0" x2="1154.1" y2="292.5" stroke="#000" stroke-width="2" stroke-linecap="butt"/>
<line x1="1178.2" y1="286.0" x2="1178.2" y2="292.5" stroke="#000" stroke-width="2" stroke-linecap="butt"/>
<line x1="1202.4" y1="286.0" x2="1202.4" y2="292.5" stroke="#000" stroke-width="2" stroke-linecap="butt"/>
<line x1="1226.5" y1="286.0" x2="1226.5" y2="292.5" stroke="#000" stroke-width="2" stroke-linecap="butt"/>
<line x1="1250.7" y1="286.0" x2="1250.7" y2="292.5" stroke="#000" stroke-width="2" stroke-linecap="butt"/>
<line x1="1274.8" y1="286.0" x2="1274.8" y2="292.5" stroke="#000" stroke-width="2" stroke-linecap="butt"/>
<line x1="1298.9" y1="286.0" x2="1298.9" y2="292.5" stroke="#000" stroke-width="2" stroke-linecap="butt"/>
<text x="804.1" y="318.5" font-size="22" text-anchor="middle" font-weight="bold" font-family='"Liberation Serif", serif' fill="#000" >2</text>
<text x="852.4" y="318.5" font-size="22" text-anchor="middle" font-weight="bold" font-family='"Liberation Serif", serif' fill="#000" >6</text>
<text x="900.6" y="318.5" font-size="22" text-anchor="middle" font-weight="bold" font-family='"Liberation Serif", serif' fill="#000" >10</text>
<text x="948.9" y="318.5" font-size="22" text-anchor="middle" font-weight="bold" font-family='"Liberation Serif", serif' fill="#000" >14</text>
<text x="997.2" y="318.5" font-size="22" text-anchor="middle" font-weight="bold" font-family='"Liberation Serif", serif' fill="#000" >18</text>
<text x="1045.5" y="318.5" font-size="22" text-anchor="middle" font-weight="bold" font-family='"Liberation Serif", serif' fill="#000" >22</text>
<text x="1093.8" y="318.5" font-size="22" text-anchor="middle" font-weight="bold" font-family='"Liberation Serif", serif' fill="#000" >26</text>
<text x="1142.0" y="318.5" font-size="22" text-anchor="middle" font-weight="bold" font-family='"Liberation Serif", serif' fill="#000" >30</text>
<text x="1190.3" y="318.5" font-size="22" text-anchor="middle" font-weight="bold" font-family='"Liberation Serif", serif' fill="#000" >34</text>
<text x="1238.6" y="318.5" font-size="22" text-anchor="middle" font-weight="bold" font-family='"Liberation Serif", serif' fill="#000" >38</text>
<text x="1286.9" y="318.5" font-size="22" text-anchor="middle" font-weight="bold" font-family='"Liberation Serif", serif' fill="#000" >42</text>
<text x="0.0" y="0.0" font-size="40" text-anchor="middle" font-weight="bold" font-family='"Liberation Serif", serif' fill="#000" transform="translate(724.5,153.7) rotate(-90)">Cell Count [%]</text>
<line x1="792.0" y1="575.9" x2="1299.0" y2="575.9" stroke="#d9d9d9" stroke-width="1.6" stroke-linecap="butt"/>
<line x1="792.0" y1="530.0" x2="1299.0" y2="530.0" stroke="#d9d9d9" stroke-width="1.6" stroke-linecap="butt"/>
<line x1="792.0" y1="484.0" x2="1299.0" y2="484.0" stroke="#d9d9d9" stroke-width="1.6" stroke-linecap="butt"/>
<line x1="792.0" y1="438.1" x2="1299.0" y2="438.1" stroke="#d9d9d9" stroke-width="1.6" stroke-linecap="butt"/>
<line x1="792.0" y1="392.2" x2="1299.0" y2="392.2" stroke="#d9d9d9" stroke-width="1.6" stroke-linecap="butt"/>
<line x1="792.0" y1="346.3" x2="1299.0" y2="346.3" stroke="#d9d9d9" stroke-width="1.6" stroke-linecap="butt"/>
<text x="1276.5" y="440.0" font-size="48" text-anchor="end" font-weight="bold" font-family='"Liberation Serif", serif' fill="#000" >Stable</text>
<text x="1276.5" y="495.5" font-size="48" text-anchor="end" font-weight="bold" font-family='"Liberation Serif", serif' fill="#000" >Knockdown</text>
<rect x="795.9" y="491.4" width="16.6" height="130.4" fill="#2034ff" stroke="#000" stroke-width="1.8"/>
<rect x="820.0" y="346.3" width="16.6" height="275.5" fill="#2034ff" stroke="#000" stroke-width="1.8"/>
<rect x="844.2" y="438.1" width="16.6" height="183.7" fill="#2034ff" stroke="#000" stroke-width="1.8"/>
<rect x="868.3" y="445.5" width="16.6" height="176.3" fill="#2034ff" stroke="#000" stroke-width="1.8"/>
<rect x="892.5" y="568.2" width="16.6" height="53.6" fill="#2034ff" stroke="#000" stroke-width="1.8"/>
<rect x="916.6" y="575.2" width="16.6" height="46.6" fill="#2034ff" stroke="#000" stroke-width="1.8"/>
<rect x="940.7" y="606.2" width="16.6" height="15.6" fill="#2034ff" stroke="#000" stroke-width="1.8"/>
<rect x="964.9" y="613.4" width="16.6" height="8.4" fill="#2034ff" stroke="#000" stroke-width="1.8"/>
<rect x="989.0" y="598.1" width="16.6" height="23.7" fill="#2034ff" stroke="#000" stroke-width="1.8"/>
<rect x="1085.6" y="613.9" width="16.6" height="7.9" fill="#2034ff" stroke="#000" stroke-width="1.8"/>
<line x1="792.0" y1="345.5" x2="792.0" y2="622.8" stroke="#000" stroke-width="1.8" stroke-linecap="butt"/>
<line x1="785.5" y1="621.8" x2="792.0" y2="621.8" stroke="#000" stroke-width="1.8" stroke-linecap="butt"/>
<text x="772.5" y="629.2" font-size="22" text-anchor="end" font-weight="bold" font-family='"Liberation Serif", serif' fill="#000" >0</text>
<line x1="785.5" y1="575.9" x2="792.0" y2="575.9" stroke="#000" stroke-width="1.8" stroke-linecap="butt"/>
<text x="772.5" y="583.3" font-size="22" text-anchor="end" font-weight="bold" font-family='"Liberation Serif", serif' fill="#000" >5</text>
<line x1="785.5" y1="530.0" x2="792.0" y2="530.0" stroke="#000" stroke-width="1.8" stroke-linecap="butt"/>
<text x="772.5" y="537.4" font-size="22" text-anchor="end" font-weight="bold" font-family='"Liberation Serif", serif' fill="#000" >10</text>
<line x1="785.5" y1="484.0" x2="792.0" y2="484.0" stroke="#000" stroke-width="1.8" stroke-linecap="butt"/>
<text x="772.5" y="491.4" font-size="22" text-anchor="end" font-weight="bold" font-family='"Liberation Serif", serif' fill="#000" >15</text>
<line x1="785.5" y1="438.1" x2="792.0" y2="438.1" stroke="#000" stroke-width="1.8" stroke-linecap="butt"/>
<text x="772.5" y="445.5" font-size="22" text-anchor="end" font-weight="bold" font-family='"Liberation Serif", serif' fill="#000" >20</text>
<line x1="785.5" y1="392.2" x2="792.0" y2="392.2" stroke="#000" stroke-width="1.8" stroke-linecap="butt"/>
<text x="772.5" y="399.6" font-size="22" text-anchor="end" font-weight="bold" font-family='"Liberation Serif", serif' fill="#000" >25</text>
<line x1="785.5" y1="346.3" x2="792.0" y2="346.3" stroke="#000" stroke-width="1.8" stroke-linecap="butt"/>
<text x="772.5" y="353.7" font-size="22" text-anchor="end" font-weight="bold" font-family='"Liberation Serif", serif' fill="#000" >30</text>
<line x1="785.5" y1="621.8" x2="1299.5" y2="621.8" stroke="#000" stroke-width="2.6" stroke-linecap="butt"/>
<line x1="792.0" y1="621.8" x2="792.0" y2="628.3" stroke="#000" stroke-width="2" stroke-linecap="butt"/>
<line x1="816.1" y1="621.8" x2="816.1" y2="628.3" stroke="#000" stroke-width="2" stroke-linecap="butt"/>
<line x1="840.3" y1="621.8" x2="840.3" y2="628.3" stroke="#000" stroke-width="2" stroke-linecap="butt"/>
<line x1="864.4" y1="621.8" x2="864.4" y2="628.3" stroke="#000" stroke-width="2" stroke-linecap="butt"/>
<line x1="888.6" y1="621.8" x2="888.6" y2="628.3" stroke="#000" stroke-width="2" stroke-linecap="butt"/>
<line x1="912.7" y1="621.8" x2="912.7" y2="628.3" stroke="#000" stroke-width="2" stroke-linecap="butt"/>
<line x1="936.8" y1="621.8" x2="936.8" y2="628.3" stroke="#000" stroke-width="2" stroke-linecap="butt"/>
<line x1="961.0" y1="621.8" x2="961.0" y2="628.3" stroke="#000" stroke-width="2" stroke-linecap="butt"/>
<line x1="985.1" y1="621.8" x2="985.1" y2="628.3" stroke="#000" stroke-width="2" stroke-linecap="butt"/>
<line x1="1009.3" y1="621.8" x2="1009.3" y2="628.3" stroke="#000" stroke-width="2" stroke-linecap="butt"/>
<line x1="1033.4" y1="621.8" x2="1033.4" y2="628.3" stroke="#000" stroke-width="2" stroke-linecap="butt"/>
<line x1="1057.5" y1="621.8" x2="1057.5" y2="628.3" stroke="#000" stroke-width="2" stroke-linecap="butt"/>
<line x1="1081.7" y1="621.8" x2="1081.7" y2="628.3" stroke="#000" stroke-width="2" stroke-linecap="butt"/>
<line x1="1105.8" y1="621.8" x2="1105.8" y2="628.3" stroke="#000" stroke-width="2" stroke-linecap="butt"/>
<line x1="1130.0" y1="621.8" x2="1130.0" y2="628.3" stroke="#000" stroke-width="2" stroke-linecap="butt"/>
<line x1="1154.1" y1="621.8" x2="1154.1" y2="628.3" stroke="#000" stroke-width="2" stroke-linecap="butt"/>
<line x1="1178.2" y1="621.8" x2="1178.2" y2="628.3" stroke="#000" stroke-width="2" stroke-linecap="butt"/>
<line x1="1202.4" y1="621.8" x2="1202.4" y2="628.3" stroke="#000" stroke-width="2" stroke-linecap="butt"/>
<line x1="1226.5" y1="621.8" x2="1226.5" y2="628.3" stroke="#000" stroke-width="2" stroke-linecap="butt"/>
<line x1="1250.7" y1="621.8" x2="1250.7" y2="628.3" stroke="#000" stroke-width="2" stroke-linecap="butt"/>
<line x1="1274.8" y1="621.8" x2="1274.8" y2="628.3" stroke="#000" stroke-width="2" stroke-linecap="butt"/>
<line x1="1298.9" y1="621.8" x2="1298.9" y2="628.3" stroke="#000" stroke-width="2" stroke-linecap="butt"/>
<text x="804.1" y="654.3" font-size="22" text-anchor="middle" font-weight="bold" font-family='"Liberation Serif", serif' fill="#000" >2</text>
<text x="852.4" y="654.3" font-size="22" text-anchor="middle" font-weight="bold" font-family='"Liberation Serif", serif' fill="#000" >6</text>
<text x="900.6" y="654.3" font-size="22" text-anchor="middle" font-weight="bold" font-family='"Liberation Serif", serif' fill="#000" >10</text>
<text x="948.9" y="654.3" font-size="22" text-anchor="middle" font-weight="bold" font-family='"Liberation Serif", serif' fill="#000" >14</text>
<text x="997.2" y="654.3" font-size="22" text-anchor="middle" font-weight="bold" font-family='"Liberation Serif", serif' fill="#000" >18</text>
<text x="1045.5" y="654.3" font-size="22" text-anchor="middle" font-weight="bold" font-family='"Liberation Serif", serif' fill="#000" >22</text>
<text x="1093.8" y="654.3" font-size="22" text-anchor="middle" font-weight="bold" font-family='"Liberation Serif", serif' fill="#000" >26</text>
<text x="1142.0" y="654.3" font-size="22" text-anchor="middle" font-weight="bold" font-family='"Liberation Serif", serif' fill="#000" >30</text>
<text x="1190.3" y="654.3" font-size="22" text-anchor="middle" font-weight="bold" font-family='"Liberation Serif", serif' fill="#000" >34</text>
<text x="1238.6" y="654.3" font-size="22" text-anchor="middle" font-weight="bold" font-family='"Liberation Serif", serif' fill="#000" >38</text>
<text x="1286.9" y="654.3" font-size="22" text-anchor="middle" font-weight="bold" font-family='"Liberation Serif", serif' fill="#000" >42</text>
<text x="0.0" y="0.0" font-size="40" text-anchor="middle" font-weight="bold" font-family='"Liberation Serif", serif' fill="#000" transform="translate(724.5,481.6) rotate(-90)">Cell Count [%]</text>
<line x1="792.0" y1="906.7" x2="1299.0" y2="906.7" stroke="#d9d9d9" stroke-width="1.6" stroke-linecap="butt"/>
<line x1="792.0" y1="860.6" x2="1299.0" y2="860.6" stroke="#d9d9d9" stroke-width="1.6" stroke-linecap="butt"/>
<line x1="792.0" y1="814.5" x2="1299.0" y2="814.5" stroke="#d9d9d9" stroke-width="1.6" stroke-linecap="butt"/>
<line x1="792.0" y1="768.4" x2="1299.0" y2="768.4" stroke="#d9d9d9" stroke-width="1.6" stroke-linecap="butt"/>
<line x1="792.0" y1="722.3" x2="1299.0" y2="722.3" stroke="#d9d9d9" stroke-width="1.6" stroke-linecap="butt"/>
<line x1="792.0" y1="676.2" x2="1299.0" y2="676.2" stroke="#d9d9d9" stroke-width="1.6" stroke-linecap="butt"/>
<text x="1276.5" y="762.8" font-size="48" text-anchor="end" font-weight="bold" font-family='"Liberation Serif", serif' fill="#000" >Transient</text>
<text x="1276.5" y="818.8" font-size="48" text-anchor="end" font-weight="bold" font-family='"Liberation Serif", serif' fill="#000" >Rescued</text>
<rect x="795.9" y="883.6" width="16.6" height="69.1" fill="#2034ff" stroke="#000" stroke-width="1.8"/>
<rect x="820.0" y="777.6" width="16.6" height="175.2" fill="#2034ff" stroke="#000" stroke-width="1.8"/>
<rect x="844.2" y="837.5" width="16.6" height="115.2" fill="#2034ff" stroke="#000" stroke-width="1.8"/>
<rect x="868.3" y="828.3" width="16.6" height="124.5" fill="#2034ff" stroke="#000" stroke-width="1.8"/>
<rect x="892.5" y="856.0" width="16.6" height="96.8" fill="#2034ff" stroke="#000" stroke-width="1.8"/>
<rect x="916.6" y="869.4" width="16.6" height="83.4" fill="#2034ff" stroke="#000" stroke-width="1.8"/>
<rect x="940.7" y="888.3" width="16.6" height="64.5" fill="#2034ff" stroke="#000" stroke-width="1.8"/>
<rect x="964.9" y="902.1" width="16.6" height="50.7" fill="#2034ff" stroke="#000" stroke-width="1.8"/>
<rect x="989.0" y="934.4" width="16.6" height="18.4" fill="#2034ff" stroke="#000" stroke-width="1.8"/>
<rect x="1013.2" y="920.5" width="16.6" height="32.3" fill="#2034ff" stroke="#000" stroke-width="1.8"/>
<rect x="1037.3" y="934.4" width="16.6" height="18.4" fill="#2034ff" stroke="#000" stroke-width="1.8"/>
<rect x="1061.4" y="939.0" width="16.6" height="13.8" fill="#2034ff" stroke="#000" stroke-width="1.8"/>
<rect x="1085.6" y="943.6" width="16.6" height="9.2" fill="#2034ff" stroke="#000" stroke-width="1.8"/>
<rect x="1109.7" y="939.0" width="16.6" height="13.8" fill="#2034ff" stroke="#000" stroke-width="1.8"/>
<rect x="1133.9" y="939.0" width="16.6" height="13.8" fill="#2034ff" stroke="#000" stroke-width="1.8"/>
<rect x="1206.3" y="948.2" width="16.6" height="4.6" fill="#2034ff" stroke="#000" stroke-width="1.8"/>
<rect x="1278.7" y="948.2" width="16.6" height="4.6" fill="#2034ff" stroke="#000" stroke-width="1.8"/>
<line x1="792.0" y1="675.4" x2="792.0" y2="953.8" stroke="#000" stroke-width="1.8" stroke-linecap="butt"/>
<line x1="785.5" y1="952.8" x2="792.0" y2="952.8" stroke="#000" stroke-width="1.8" stroke-linecap="butt"/>
<text x="772.5" y="960.2" font-size="22" text-anchor="end" font-weight="bold" font-family='"Liberation Serif", serif' fill="#000" >0</text>
<line x1="785.5" y1="906.7" x2="792.0" y2="906.7" stroke="#000" stroke-width="1.8" stroke-linecap="butt"/>
<text x="772.5" y="914.1" font-size="22" text-anchor="end" font-weight="bold" font-family='"Liberation Serif", serif' fill="#000" >5</text>
<line x1="785.5" y1="860.6" x2="792.0" y2="860.6" stroke="#000" stroke-width="1.8" stroke-linecap="butt"/>
<text x="772.5" y="868.0" font-size="22" text-anchor="end" font-weight="bold" font-family='"Liberation Serif", serif' fill="#000" >10</text>
<line x1="785.5" y1="814.5" x2="792.0" y2="814.5" stroke="#000" stroke-width="1.8" stroke-linecap="butt"/>
<text x="772.5" y="821.9" font-size="22" text-anchor="end" font-weight="bold" font-family='"Liberation Serif", serif' fill="#000" >15</text>
<line x1="785.5" y1="768.4" x2="792.0" y2="768.4" stroke="#000" stroke-width="1.8" stroke-linecap="butt"/>
<text x="772.5" y="775.8" font-size="22" text-anchor="end" font-weight="bold" font-family='"Liberation Serif", serif' fill="#000" >20</text>
<line x1="785.5" y1="722.3" x2="792.0" y2="722.3" stroke="#000" stroke-width="1.8" stroke-linecap="butt"/>
<text x="772.5" y="729.7" font-size="22" text-anchor="end" font-weight="bold" font-family='"Liberation Serif", serif' fill="#000" >25</text>
<line x1="785.5" y1="676.2" x2="792.0" y2="676.2" stroke="#000" stroke-width="1.8" stroke-linecap="butt"/>
<text x="772.5" y="683.6" font-size="22" text-anchor="end" font-weight="bold" font-family='"Liberation Serif", serif' fill="#000" >30</text>
<line x1="785.5" y1="952.8" x2="1299.5" y2="952.8" stroke="#000" stroke-width="2.6" stroke-linecap="butt"/>
<line x1="792.0" y1="952.8" x2="792.0" y2="959.3" stroke="#000" stroke-width="2" stroke-linecap="butt"/>
<line x1="816.1" y1="952.8" x2="816.1" y2="959.3" stroke="#000" stroke-width="2" stroke-linecap="butt"/>
<line x1="840.3" y1="952.8" x2="840.3" y2="959.3" stroke="#000" stroke-width="2" stroke-linecap="butt"/>
<line x1="864.4" y1="952.8" x2="864.4" y2="959.3" stroke="#000" stroke-width="2" stroke-linecap="butt"/>
<line x1="888.6" y1="952.8" x2="888.6" y2="959.3" stroke="#000" stroke-width="2" stroke-linecap="butt"/>
<line x1="912.7" y1="952.8" x2="912.7" y2="959.3" stroke="#000" stroke-width="2" stroke-linecap="butt"/>
<line x1="936.8" y1="952.8" x2="936.8" y2="959.3" stroke="#000" stroke-width="2" stroke-linecap="butt"/>
<line x1="961.0" y1="952.8" x2="961.0" y2="959.3" stroke="#000" stroke-width="2" stroke-linecap="butt"/>
<line x1="985.1" y1="952.8" x2="985.1" y2="959.3" stroke="#000" stroke-width="2" stroke-linecap="butt"/>
<line x1="1009.3" y1="952.8" x2="1009.3" y2="959.3" stroke="#000" stroke-width="2" stroke-linecap="butt"/>
<line x1="1033.4" y1="952.8" x2="1033.4" y2="959.3" stroke="#000" stroke-width="2" stroke-linecap="butt"/>
<line x1="1057.5" y1="952.8" x2="1057.5" y2="959.3" stroke="#000" stroke-width="2" stroke-linecap="butt"/>
<line x1="1081.7" y1="952.8" x2="1081.7" y2="959.3" stroke="#000" stroke-width="2" stroke-linecap="butt"/>
<line x1="1105.8" y1="952.8" x2="1105.8" y2="959.3" stroke="#000" stroke-width="2" stroke-linecap="butt"/>
<line x1="1130.0" y1="952.8" x2="1130.0" y2="959.3" stroke="#000" stroke-width="2" stroke-linecap="butt"/>
<line x1="1154.1" y1="952.8" x2="1154.1" y2="959.3" stroke="#000" stroke-width="2" stroke-linecap="butt"/>
<line x1="1178.2" y1="952.8" x2="1178.2" y2="959.3" stroke="#000" stroke-width="2" stroke-linecap="butt"/>
<line x1="1202.4" y1="952.8" x2="1202.4" y2="959.3" stroke="#000" stroke-width="2" stroke-linecap="butt"/>
<line x1="1226.5" y1="952.8" x2="1226.5" y2="959.3" stroke="#000" stroke-width="2" stroke-linecap="butt"/>
<line x1="1250.7" y1="952.8" x2="1250.7" y2="959.3" stroke="#000" stroke-width="2" stroke-linecap="butt"/>
<line x1="1274.8" y1="952.8" x2="1274.8" y2="959.3" stroke="#000" stroke-width="2" stroke-linecap="butt"/>
<line x1="1298.9" y1="952.8" x2="1298.9" y2="959.3" stroke="#000" stroke-width="2" stroke-linecap="butt"/>
<text x="804.1" y="985.3" font-size="22" text-anchor="middle" font-weight="bold" font-family='"Liberation Serif", serif' fill="#000" >2</text>
<text x="852.4" y="985.3" font-size="22" text-anchor="middle" font-weight="bold" font-family='"Liberation Serif", serif' fill="#000" >6</text>
<text x="900.6" y="985.3" font-size="22" text-anchor="middle" font-weight="bold" font-family='"Liberation Serif", serif' fill="#000" >10</text>
<text x="948.9" y="985.3" font-size="22" text-anchor="middle" font-weight="bold" font-family='"Liberation Serif", serif' fill="#000" >14</text>
<text x="997.2" y="985.3" font-size="22" text-anchor="middle" font-weight="bold" font-family='"Liberation Serif", serif' fill="#000" >18</text>
<text x="1045.5" y="985.3" font-size="22" text-anchor="middle" font-weight="bold" font-family='"Liberation Serif", serif' fill="#000" >22</text>
<text x="1093.8" y="985.3" font-size="22" text-anchor="middle" font-weight="bold" font-family='"Liberation Serif", serif' fill="#000" >26</text>
<text x="1142.0" y="985.3" font-size="22" text-anchor="middle" font-weight="bold" font-family='"Liberation Serif", serif' fill="#000" >30</text>
<text x="1190.3" y="985.3" font-size="22" text-anchor="middle" font-weight="bold" font-family='"Liberation Serif", serif' fill="#000" >34</text>
<text x="1238.6" y="985.3" font-size="22" text-anchor="middle" font-weight="bold" font-family='"Liberation Serif", serif' fill="#000" >38</text>
<text x="1286.9" y="985.3" font-size="22" text-anchor="middle" font-weight="bold" font-family='"Liberation Serif", serif' fill="#000" >42</text>
<text x="0.0" y="0.0" font-size="40" text-anchor="middle" font-weight="bold" font-family='"Liberation Serif", serif' fill="#000" transform="translate(724.5,817.1) rotate(-90)">Cell Count [%]</text>
<text x="1041.5" y="1030.5" font-size="40" text-anchor="middle" font-weight="bold" font-family='"Liberation Serif", serif' fill="#000" >Cilia Length (μm)</text>
<line x1="751.0" y1="1079.0" x2="751.0" y2="1485.4" stroke="#000" stroke-width="4" stroke-linecap="butt"/>
<line x1="738.0" y1="1483.4" x2="751.0" y2="1483.4" stroke="#000" stroke-width="4" stroke-linecap="butt"/>
<text x="737.0" y="1493.4" font-size="29" text-anchor="end" font-weight="bold" font-family='"Liberation Serif", serif' fill="#000" >0</text>
<line x1="738.0" y1="1349.2" x2="751.0" y2="1349.2" stroke="#000" stroke-width="4" stroke-linecap="butt"/>
<text x="737.0" y="1359.2" font-size="29" text-anchor="end" font-weight="bold" font-family='"Liberation Serif", serif' fill="#000" >50</text>
<line x1="738.0" y1="1215.0" x2="751.0" y2="1215.0" stroke="#000" stroke-width="4" stroke-linecap="butt"/>
<text x="737.0" y="1225.0" font-size="29" text-anchor="end" font-weight="bold" font-family='"Liberation Serif", serif' fill="#000" >100</text>
<line x1="738.0" y1="1080.8" x2="751.0" y2="1080.8" stroke="#000" stroke-width="4" stroke-linecap="butt"/>
<text x="737.0" y="1090.8" font-size="29" text-anchor="end" font-weight="bold" font-family='"Liberation Serif", serif' fill="#000" >150</text>
<line x1="739.0" y1="1483.4" x2="1205.4" y2="1483.4" stroke="#000" stroke-width="4" stroke-linecap="butt"/>
<line x1="842.0" y1="1483.4" x2="842.0" y2="1496.0" stroke="#000" stroke-width="4" stroke-linecap="butt"/>
<line x1="978.4" y1="1483.4" x2="978.4" y2="1496.0" stroke="#000" stroke-width="4" stroke-linecap="butt"/>
<line x1="1114.4" y1="1483.4" x2="1114.4" y2="1496.0" stroke="#000" stroke-width="4" stroke-linecap="butt"/>
<text x="0.0" y="0.0" font-size="28.5" text-anchor="middle" font-weight="bold" font-family='"Liberation Serif", serif' fill="#000" transform="translate(681.3,1277.8) rotate(-90)">% Cell with Cilia</text>
<path d="M800.5,1481.4 V1238.6 H884.4 V1481.4" fill="none" stroke="#000" stroke-width="7" stroke-linejoin="miter"/>
<line x1="842.6" y1="1220.0" x2="842.6" y2="1250.0" stroke="#000" stroke-width="4" stroke-linecap="butt"/>
<line x1="820.6" y1="1220.0" x2="864.6" y2="1220.0" stroke="#000" stroke-width="4" stroke-linecap="round"/>
<line x1="820.6" y1="1250.0" x2="864.6" y2="1250.0" stroke="#000" stroke-width="4" stroke-linecap="round"/>
<rect x="824.8" y="1208.5" width="12" height="12" fill="#000"/>
<rect x="848.0" y="1219.5" width="12" height="12" fill="#000"/>
<rect x="836.6" y="1258.4" width="12" height="12" fill="#000"/>
<path d="M936.5,1481.4 V1414.5 H1020.5 V1481.4" fill="none" stroke="#4f8f23" stroke-width="7" stroke-linejoin="miter"/>
<line x1="978.4" y1="1399.6" x2="978.4" y2="1422.0" stroke="#4f8f23" stroke-width="4" stroke-linecap="butt"/>
<line x1="957.0" y1="1399.6" x2="1000.4" y2="1399.6" stroke="#4f8f23" stroke-width="4" stroke-linecap="round"/>
<line x1="957.0" y1="1422.0" x2="1000.4" y2="1422.0" stroke="#4f8f23" stroke-width="4" stroke-linecap="round"/>
<path d="M972.6,1370.0 L984.6,1370.0 L978.6,1382.0 Z" fill="#4f8f23" stroke="#4f8f23" stroke-width="1.2" stroke-linejoin="round"/>
<path d="M949.0,1421.0 L961.0,1421.0 L955.0,1433.0 Z" fill="#4f8f23" stroke="#4f8f23" stroke-width="1.2" stroke-linejoin="round"/>
<path d="M995.0,1415.0 L1007.0,1415.0 L1001.0,1427.0 Z" fill="#4f8f23" stroke="#4f8f23" stroke-width="1.2" stroke-linejoin="round"/>
<path d="M1073.1,1481.4 V1281.0 H1156.9 V1481.4" fill="none" stroke="#7e2a8c" stroke-width="7" stroke-linejoin="miter"/>
<line x1="1114.4" y1="1261.4" x2="1114.4" y2="1293.6" stroke="#7e2a8c" stroke-width="4" stroke-linecap="butt"/>
<line x1="1093.0" y1="1261.4" x2="1137.0" y2="1261.4" stroke="#7e2a8c" stroke-width="4" stroke-linecap="round"/>
<line x1="1093.0" y1="1293.6" x2="1137.0" y2="1293.6" stroke="#7e2a8c" stroke-width="4" stroke-linecap="round"/>
<path d="M1107.9,1236.0 L1120.9,1236.0 L1114.4,1249.0 Z" fill="#7e2a8c" stroke="#7e2a8c" stroke-width="1.2" stroke-linejoin="round"/>
<path d="M1096.0,1262.0 L1110.0,1262.0 L1103.0,1276.0 Z" fill="#7e2a8c" stroke="#7e2a8c" stroke-width="1.2" stroke-linejoin="round"/>
<path d="M1119.5,1267.0 L1132.5,1267.0 L1126.0,1280.0 Z" fill="#7e2a8c" stroke="#7e2a8c" stroke-width="1.2" stroke-linejoin="round"/>
<path d="M1107.9,1314.0 L1120.9,1314.0 L1114.4,1327.0 Z" fill="#7e2a8c" stroke="#7e2a8c" stroke-width="1.2" stroke-linejoin="round"/>
<ellipse cx="1105.8" cy="1505.6" rx="1.8" ry="1.1" fill="#000"/>
<path d="M842.3,1203.5 V1189 H974.3 V1203.5 M983,1203.5 V1189 H1115 V1203.5" fill="none" stroke="#000" stroke-width="2.6"/>
<path d="M887.40,1165.70 V1178.90 M881.68,1169.00 L893.12,1175.60 M881.68,1175.60 L893.12,1169.00" stroke="#000" stroke-width="3.2" fill="none"/>
<path d="M901.40,1165.70 V1178.90 M895.68,1169.00 L907.12,1175.60 M895.68,1175.60 L907.12,1169.00" stroke="#000" stroke-width="3.2" fill="none"/>
<path d="M915.40,1165.70 V1178.90 M909.68,1169.00 L921.12,1175.60 M909.68,1175.60 L921.12,1169.00" stroke="#000" stroke-width="3.2" fill="none"/>
<path d="M929.40,1165.70 V1178.90 M923.68,1169.00 L935.12,1175.60 M923.68,1175.60 L935.12,1169.00" stroke="#000" stroke-width="3.2" fill="none"/>
<path d="M1035.50,1165.80 V1179.00 M1029.78,1169.10 L1041.22,1175.70 M1029.78,1175.70 L1041.22,1169.10" stroke="#000" stroke-width="3.2" fill="none"/>
<path d="M1049.40,1165.80 V1179.00 M1043.68,1169.10 L1055.12,1175.70 M1043.68,1175.70 L1055.12,1169.10" stroke="#000" stroke-width="3.2" fill="none"/>
<path d="M1063.30,1165.80 V1179.00 M1057.58,1169.10 L1069.02,1175.70 M1057.58,1175.70 L1069.02,1169.10" stroke="#000" stroke-width="3.2" fill="none"/>
<line x1="737.9" y1="1546.5" x2="737.9" y2="1953.2" stroke="#000" stroke-width="3.6" stroke-linecap="butt"/>
<line x1="725.7" y1="1951.2" x2="737.9" y2="1951.2" stroke="#000" stroke-width="3.6" stroke-linecap="butt"/>
<text x="723.0" y="1961.2" font-size="29" text-anchor="end" font-weight="bold" font-family='"Liberation Serif", serif' fill="#000" >0</text>
<line x1="725.7" y1="1850.7" x2="737.9" y2="1850.7" stroke="#000" stroke-width="3.6" stroke-linecap="butt"/>
<text x="723.0" y="1860.7" font-size="29" text-anchor="end" font-weight="bold" font-family='"Liberation Serif", serif' fill="#000" >5</text>
<line x1="725.7" y1="1750.2" x2="737.9" y2="1750.2" stroke="#000" stroke-width="3.6" stroke-linecap="butt"/>
<text x="723.0" y="1760.2" font-size="29" text-anchor="end" font-weight="bold" font-family='"Liberation Serif", serif' fill="#000" >10</text>
<line x1="725.7" y1="1649.6" x2="737.9" y2="1649.6" stroke="#000" stroke-width="3.6" stroke-linecap="butt"/>
<text x="723.0" y="1659.6" font-size="29" text-anchor="end" font-weight="bold" font-family='"Liberation Serif", serif' fill="#000" >15</text>
<line x1="725.7" y1="1549.1" x2="737.9" y2="1549.1" stroke="#000" stroke-width="3.6" stroke-linecap="butt"/>
<text x="723.0" y="1559.1" font-size="29" text-anchor="end" font-weight="bold" font-family='"Liberation Serif", serif' fill="#000" >20</text>
<line x1="725.4" y1="1951.2" x2="1191.5" y2="1951.2" stroke="#000" stroke-width="4" stroke-linecap="butt"/>
<line x1="828.2" y1="1951.2" x2="828.2" y2="1963.0" stroke="#000" stroke-width="4" stroke-linecap="butt"/>
<line x1="964.0" y1="1951.2" x2="964.0" y2="1963.0" stroke="#000" stroke-width="4" stroke-linecap="butt"/>
<line x1="1100.2" y1="1951.2" x2="1100.2" y2="1963.0" stroke="#000" stroke-width="4" stroke-linecap="butt"/>
<text x="0.0" y="0.0" font-size="28" text-anchor="middle" font-weight="bold" font-family='"Liberation Serif", serif' fill="#000" transform="translate(681.7,1738.3) rotate(-90)">Cilia Length (μm )</text>
<path d="M786.5,1949.2 V1720.1 H870.7 V1949.2" fill="none" stroke="#000" stroke-width="7" stroke-linejoin="miter"/>
<line x1="828.4" y1="1703.4" x2="828.4" y2="1730.0" stroke="#000" stroke-width="4" stroke-linecap="butt"/>
<line x1="806.4" y1="1703.4" x2="850.4" y2="1703.4" stroke="#000" stroke-width="4" stroke-linecap="round"/>
<line x1="806.4" y1="1730.0" x2="850.4" y2="1730.0" stroke="#000" stroke-width="4" stroke-linecap="round"/>
<rect x="822.4" y="1684.0" width="12" height="12" fill="#000"/>
<rect x="811.0" y="1724.4" width="12" height="12" fill="#000"/>
<rect x="834.0" y="1724.4" width="12" height="12" fill="#000"/>
<path d="M922.9,1949.2 V1834.7 H1006.3 V1949.2" fill="none" stroke="#4f8f23" stroke-width="7" stroke-linejoin="miter"/>
<line x1="964.6" y1="1828.0" x2="964.6" y2="1834.0" stroke="#4f8f23" stroke-width="3.5" stroke-linecap="butt"/>
<line x1="942.8" y1="1828.0" x2="986.2" y2="1828.0" stroke="#4f8f23" stroke-width="3.5" stroke-linecap="round"/>
<line x1="942.8" y1="1834.0" x2="986.2" y2="1834.0" stroke="#4f8f23" stroke-width="3.5" stroke-linecap="round"/>
<path d="M981.2,1816.5 L993.2,1816.5 L987.2,1828.5 Z" fill="#4f8f23" stroke="#4f8f23" stroke-width="1.2" stroke-linejoin="round"/>
<path d="M935.0,1829.0 L947.0,1829.0 L941.0,1841.0 Z" fill="#4f8f23" stroke="#4f8f23" stroke-width="1.2" stroke-linejoin="round"/>
<path d="M981.0,1829.0 L993.0,1829.0 L987.0,1841.0 Z" fill="#4f8f23" stroke="#4f8f23" stroke-width="1.2" stroke-linejoin="round"/>
<path d="M1059.2,1949.2 V1738.0 H1142.7 V1949.2" fill="none" stroke="#7e2a8c" stroke-width="7" stroke-linejoin="miter"/>
<line x1="1101.4" y1="1693.0" x2="1101.4" y2="1775.8" stroke="#7e2a8c" stroke-width="4" stroke-linecap="butt"/>
<line x1="1078.6" y1="1693.0" x2="1123.0" y2="1693.0" stroke="#7e2a8c" stroke-width="4" stroke-linecap="round"/>
<line x1="1078.6" y1="1775.8" x2="1123.0" y2="1775.8" stroke="#7e2a8c" stroke-width="4" stroke-linecap="round"/>
<path d="M1093.7,1611.5 L1107.7,1611.5 L1100.7,1624.0 Z" fill="#7e2a8c" stroke="#7e2a8c" stroke-width="1.2" stroke-linejoin="round"/>
<path d="M1093.7,1737.5 L1107.7,1737.5 L1100.7,1750.0 Z" fill="#7e2a8c" stroke="#7e2a8c" stroke-width="1.2" stroke-linejoin="round"/>
<path d="M1093.7,1755.0 L1107.7,1755.0 L1100.7,1767.5 Z" fill="#7e2a8c" stroke="#7e2a8c" stroke-width="1.2" stroke-linejoin="round"/>
<path d="M1093.7,1806.5 L1107.7,1806.5 L1100.7,1819.0 Z" fill="#7e2a8c" stroke="#7e2a8c" stroke-width="1.2" stroke-linejoin="round"/>
<path d="M828.4,1604.3 V1590.4 H960 V1604.3 M969.4,1604.3 V1590.4 H1101.4 V1604.3" fill="none" stroke="#000" stroke-width="2.6"/>
<path d="M894.50,1567.90 V1581.10 M888.78,1571.20 L900.22,1577.80 M888.78,1577.80 L900.22,1571.20" stroke="#000" stroke-width="3.2" fill="none"/>
<text x="1035.5" y="1578.7" font-size="21" text-anchor="middle" font-weight="normal" font-family='"Liberation Sans", sans-serif' fill="#000" letter-spacing="-0.4">ns</text>
<text x="1035.0" y="1614.7" font-size="23" text-anchor="middle" font-weight="normal" font-family='"Liberation Serif", serif' fill="#000" letter-spacing="-0.7">p=0.072</text>
<text x="0.0" y="0.0" font-size="29.5" text-anchor="end" font-weight="bold" font-family='"Liberation Serif", serif' fill="#000" transform="translate(835.7,1982) rotate(-45)">Scramble</text>
<text x="0.0" y="0.0" font-size="29.5" text-anchor="end" font-weight="bold" font-family='"Liberation Serif", serif' fill="#000" transform="translate(971.5,1982) rotate(-45)">Stable Knockdown</text>
<text x="0.0" y="0.0" font-size="29.5" text-anchor="end" font-weight="bold" font-family='"Liberation Serif", serif' fill="#000" transform="translate(1107.7,1982) rotate(-45)">Transient Rescued</text>
</svg>
</body></html>
